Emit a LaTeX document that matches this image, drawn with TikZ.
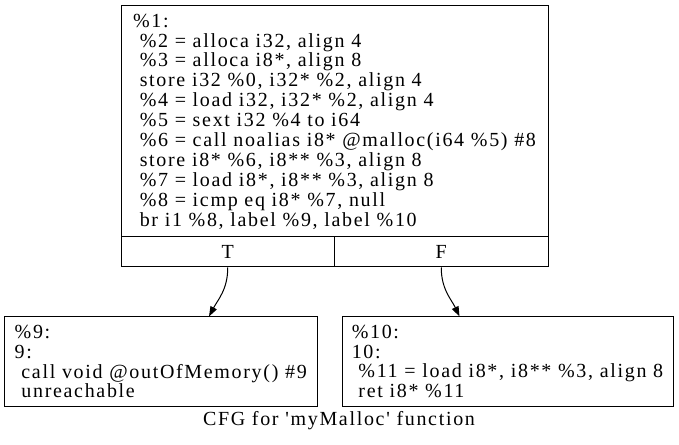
\documentclass[tikz,border=0pt]{standalone}
\usepackage{fontspec}
\newfontfamily\cfgfont{Liberation Serif}[LetterSpace=8.4]
\usetikzlibrary{arrows.meta}

\begin{document}
\begin{tikzpicture}[x=1pt, y=1pt,
    testo/.style={font=\cfgfont\fontsize{20}{19.9}\selectfont},
    blocco/.style={testo, draw, line width=1pt, align=left, inner sep=0pt},
    ramo/.style={testo, draw, line width=1pt, inner sep=0pt, minimum width=213.5pt, minimum height=30pt},
    arco/.style={line width=1pt, -{Triangle[length=10pt, width=7pt]}}]
    \useasboundingbox (0,0) rectangle (679,444);

    % Blocco di ingresso
    \node[blocco, minimum width=427pt, minimum height=231pt] (bb1) at (334.5,322.5) {\%1:\\
        \ \%2 = alloca i32, align 4\\
        \ \%3 = alloca i8*, align 8\\
        \ store i32 \%0, i32* \%2, align 4\\
        \ \%4 = load i32, i32* \%2, align 4\\
        \ \%5 = sext i32 \%4 to i64\\
        \ \%6 = call noalias i8* @malloc(i64 \%5) \#8\\
        \ store i8* \%6, i8** \%3, align 8\\
        \ \%7 = load i8*, i8** \%3, align 8\\
        \ \%8 = icmp eq i8* \%7, null\\
        \ br i1 \%8, label \%9, label \%10};

    % Rami T / F
    \node[ramo] (bb1T) at (227.75,192) {T};
    \node[ramo] (bb1F) at (441.25,192) {F};

    % Blocchi successori
    \node[blocco, minimum width=312.5pt, minimum height=89pt] (bb9) at (160.75,82.5) {\%9:\\
        9:\\
        \ call void @outOfMemory() \#9\\
        \ unreachable};
    \node[blocco, minimum width=331pt, minimum height=89pt] (bb10) at (507.5,82.5) {\%10:\\
        10:\\
        \ \%11 = load i8*, i8** \%3, align 8\\
        \ ret i8* \%11};

    % Archi
    \draw[arco] (bb1T.south) .. controls +(0,-22) and +(9,17) .. ([xshift=205pt]bb9.north west);
    \draw[arco] (bb1F.south) .. controls +(0,-22) and +(-8,17) .. ([xshift=118pt]bb10.north west);

    % Titolo
    \node[testo, anchor=base] (titolo) at (339,19) {CFG for 'myMalloc' function};
\end{tikzpicture}
\end{document}
